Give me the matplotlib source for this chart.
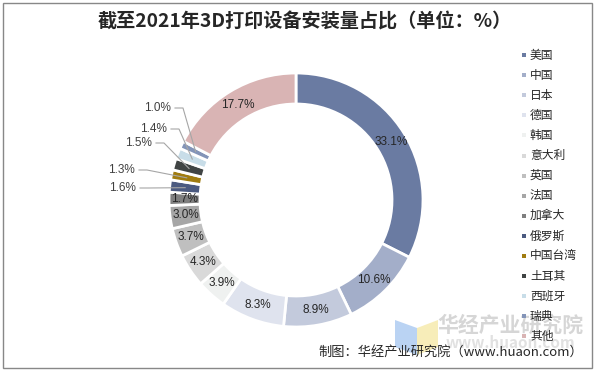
import numpy as np
import matplotlib.pyplot as plt
from matplotlib.lines import Line2D
from matplotlib.patches import Rectangle, Polygon

plt.rcParams['font.family'] = ['Noto Sans CJK SC', 'DejaVu Sans']

countries = ['美国', '中国', '日本', '德国', '韩国', '意大利', '英国', '法国',
             '加拿大', '俄罗斯', '中国台湾', '土耳其', '西班牙', '瑞典', '其他']
shares = [33.1, 10.6, 8.9, 8.3, 3.9, 4.3, 3.7, 3.0, 1.7, 1.6, 1.3, 1.5, 1.4, 1.0, 17.7]
colors = ['#6a7ba2', '#a3aec9', '#c3cadc', '#dfe3ee', '#eff1f0', '#d9d9d9',
          '#bfbfbf', '#a6a6a6', '#7f7f7f', '#4b5a80', '#a07c10', '#404444',
          '#c8dde8', '#8394b8', '#d9b4b4']
outside = {9: (122, 188), 10: (121, 170), 11: (138, 143), 12: (153, 129), 13: (157, 108)}

W, H = 597, 371
fig = plt.figure(figsize=(W / 100, H / 100), dpi=100)
ax = fig.add_axes([0, 0, 1, 1])

cx, cy, R, w = 296, H - 200, 127, 31
wedges, _ = ax.pie(shares, colors=colors, startangle=90, counterclock=False,
                   center=(cx, cy), radius=R, frame=True,
                   wedgeprops=dict(width=w, edgecolor='white', linewidth=2))
ax.set_xlim(0, W)
ax.set_ylim(0, H)
ax.set_aspect('equal')
ax.axis('off')

rm = R - w / 2
for i, wd in enumerate(wedges):
    ang = np.deg2rad((wd.theta1 + wd.theta2) / 2)
    px, py = cx + rm * np.cos(ang), cy + rm * np.sin(ang)
    txt = f'{shares[i]:.1f}%'
    if i in outside:
        tx, ty = outside[i]
        ty = H - ty
        ax.text(tx, ty, txt, ha='center', va='center', fontsize=8.5,
                color='#404040', family='Liberation Sans')
        ax.plot([tx + 18, tx + 26, px], [ty, ty, py], color='#a6a6a6', lw=0.8)
    else:
        ax.text(px, py, txt, ha='center', va='center', fontsize=8.5,
                color='#262626', family='Liberation Sans')

# watermark (behind legend)
ax.add_patch(Polygon([[395, H - 320], [417, H - 328], [417, H - 355], [395, H - 347]],
                     closed=True, color='#a9c8f0', alpha=0.8, lw=0, zorder=0))
ax.add_patch(Polygon([[417, H - 328], [438, H - 320], [438, H - 347], [417, H - 355]],
                     closed=True, color='#f6e9a8', alpha=0.8, lw=0, zorder=0))
ax.text(510, H - 325, '华经产业研究院', ha='center', va='center', fontsize=15,
        fontweight='bold', color='#cccccc', alpha=0.8, zorder=0)
ax.text(510, H - 343, 'www.huaon.com', ha='center', va='center', fontsize=11,
        fontweight='bold', color='#dadada', alpha=0.8, zorder=0)

# legend
for i, name in enumerate(countries):
    y = H - (55 + i * 20.1)
    ax.add_line(Line2D([524], [y], marker='s', markersize=3, color=colors[i], mew=0))
    ax.text(530, y, name, ha='left', va='center', fontsize=8.5, color='#262626')

# title
ax.text(305, H - 22, '截至2021年3D打印设备安装量占比（单位：%）', ha='center', va='center',
        fontsize=13.8, fontweight='bold', color='#262626')

# footer
ax.text(583, H - 352, '制图：华经产业研究院（www.huaon.com）', ha='right', va='center',
        fontsize=9.5, color='#262626')

fig.patches.append(Rectangle((3, 3), W - 8, H - 6, transform=None, fill=False,
                             edgecolor='#888888', lw=1))

fig.savefig('out.png', dpi=100)
